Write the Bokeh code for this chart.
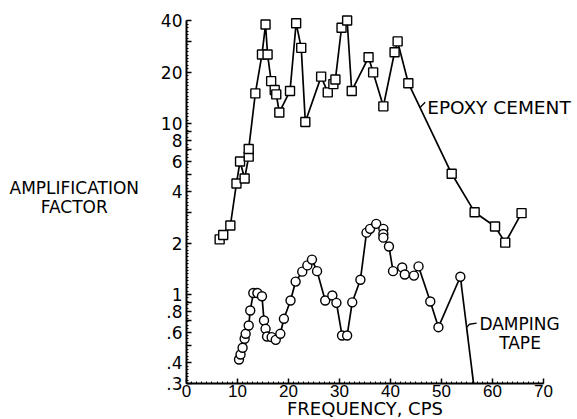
from bokeh.plotting import figure
from bokeh.models import FixedTicker, Label, Range1d
from bokeh.embed import file_html
from bokeh.resources import INLINE

# ---- data ----
epoxy_freq = [6.5, 7.2, 8.6, 9.8, 10.5, 11.4, 12.2, 12.2, 13.5, 14.8, 15.5, 15.9,
              16.6, 17.3, 17.6, 18.2, 20.3, 21.5, 22.5, 23.3, 26.4, 27.7, 28.8, 29.2,
              30.4, 31.5, 32.4, 35.7, 36.6, 38.6, 40.8, 41.4, 43.5, 52.0, 56.5, 60.5,
              62.5, 65.7]
epoxy_amp = [2.10, 2.23, 2.53, 4.46, 6.0, 4.77, 6.4, 7.1, 15.0, 25.3, 37.9, 25.3,
             17.7, 15.7, 14.8, 11.6, 15.5, 38.6, 27.7, 10.2, 18.8, 15.2, 17.0, 18.1,
             36.3, 40.0, 15.5, 24.4, 19.9, 12.6, 26.1, 30.2, 17.2, 5.08, 3.03, 2.5,
             2.01, 2.99]

tape_freq = [10.3, 10.6, 11.0, 11.4, 11.6, 12.2, 12.5, 13.1, 13.9, 14.8, 15.2, 15.5,
             15.8, 16.7, 17.5, 18.4, 19.1, 20.4, 21.4, 22.7, 23.7, 24.6, 25.6, 27.2,
             28.6, 29.4, 30.5, 31.5, 32.5, 34.1, 35.3, 36.0, 37.2, 38.6, 38.6, 38.6,
             39.7, 40.5, 42.3, 42.8, 44.6, 45.5, 47.8, 49.4, 53.7]
tape_amp = [0.417, 0.446, 0.488, 0.551, 0.589, 0.659, 0.806, 1.02, 1.02, 0.977, 0.705, 0.63,
            0.568, 0.563, 0.543, 0.589, 0.721, 0.922, 1.19, 1.36, 1.48, 1.60, 1.37, 0.922,
            0.987, 0.894, 0.576, 0.576, 0.90, 1.22, 2.30, 2.42, 2.59, 2.42, 2.26, 2.15,
            1.91, 1.37, 1.44, 1.31, 1.29, 1.46, 0.91, 0.644, 1.27]
# the tape curve continues down to the bottom axis after its last point
tape_tail_freq = [53.7, 56.3]
tape_tail_amp = [1.27, 0.30]

x_ticks = [0, 10, 20, 30, 40, 50, 60, 70]
x_tick_labels = ["0", "10", "20", "30", "40", "50", "60", "70"]
y_ticks = [0.3, 0.4, 0.5, 0.6, 0.7, 0.8, 0.9, 1, 2, 3, 4, 5, 6, 7, 8, 9, 10, 20, 30, 40]
y_tick_labels = [".3", ".4", "", ".6", "", ".8", "", "1", "2", "", "4", "", "6", "", "8", "",
                 "10", "20", "", "40"]

X_MIN, X_MAX = 0, 70
Y_MIN, Y_MAX = 0.3, 40

FONT = "DejaVu Sans"
XFONT = "Liberation Sans"

# the frame covers the whole canvas; the axes are pinned at x=0 and y=0.3
p = figure(width=577, height=419, output_backend="svg", toolbar_location=None,
           y_axis_type="log", x_range=Range1d(-36.47, 76.67), y_range=Range1d(0.1858, 52.4),
           min_border=0)
p.outline_line_color = None
p.xgrid.visible = False
p.ygrid.visible = False
p.background_fill_color = "white"
p.border_fill_color = "white"

xa = p.xaxis[0]
xa.fixed_location = Y_MIN
xa.bounds = (X_MIN, X_MAX)
xa.ticker = FixedTicker(ticks=x_ticks, minor_ticks=list(range(X_MIN, X_MAX + 1)))
xa.major_label_overrides = {t: l for t, l in zip(x_ticks, x_tick_labels)}

ya = p.yaxis[0]
ya.fixed_location = X_MIN
ya.bounds = (Y_MIN, Y_MAX)
y_minor = [10 ** (k / 50) for k in range(-26, 81)]
ya.ticker = FixedTicker(ticks=y_ticks, minor_ticks=y_minor)
ya.major_label_overrides = {t: l for t, l in zip(y_ticks, y_tick_labels)}

for ax in (xa, ya):
    ax.axis_line_width = 2
    ax.axis_line_color = "black"
    ax.major_tick_in = 5
    ax.major_tick_out = 0
    ax.minor_tick_in = 2
    ax.minor_tick_out = 0
    ax.major_tick_line_width = 1.5
    ax.minor_tick_line_width = 1
    ax.major_label_text_color = "black"
ya.major_label_text_font = FONT
ya.major_label_text_font_size = "17px"
ya.major_label_standoff = 4
xa.major_label_text_font = XFONT
xa.major_label_text_font_size = "17px"
xa.major_label_standoff = 1

# curves
p.line(epoxy_freq, epoxy_amp, line_color="black", line_width=1.7)
p.scatter(epoxy_freq, epoxy_amp, marker="square", size=9, fill_color="white",
          line_color="black", line_width=1.4)
p.line(tape_tail_freq, tape_tail_amp, line_color="black", line_width=1.7)
p.line(tape_freq, tape_amp, line_color="black", line_width=1.7)
p.scatter(tape_freq, tape_amp, marker="circle", size=9, fill_color="white",
          line_color="black", line_width=1.4)

# leader ticks to the curve labels
p.line([45.8, 46.8], [12.4, 13.3], line_color="black", line_width=1.3)
p.line([54.9, 55.5, 56.9], [0.64, 0.67, 0.68], line_color="black", line_width=1.3)

def add_label(x, y, text, size, align="left"):
    p.add_layout(Label(x=x, y=y, text=text, text_font=FONT, text_font_size=size,
                       text_align=align, text_baseline="middle", text_color="black"))

add_label(-22, 4.22, "AMPLIFICATION", "17px", "center")
add_label(-22, 3.27, "FACTOR", "17px", "center")
add_label(47.2, 12.4, "EPOXY CEMENT", "18.5px")
add_label(65.3, 0.676, "DAMPING", "17px", "center")
add_label(65.4, 0.517, "TAPE", "17px", "center")
add_label(35, 0.2169, "FREQUENCY, CPS", "18px", "center")

open("out.html", "w").write(file_html(p, INLINE))
